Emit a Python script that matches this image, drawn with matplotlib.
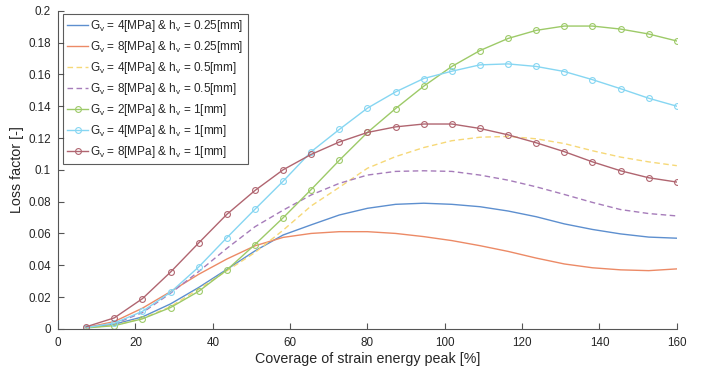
import matplotlib
matplotlib.use("Agg")
import matplotlib.pyplot as plt
import numpy as np

plt.rcParams['font.family'] = ['Liberation Sans', 'DejaVu Sans']

# x positions (coverage of strain energy peak, %)
coverage = [7.27, 14.55, 21.82, 29.09, 36.36, 43.64, 50.91, 58.18, 65.45, 72.73, 80.00,
            87.27, 94.55, 101.82, 109.09, 116.36, 123.64, 130.91, 138.18, 145.45, 152.73, 160.00]

g4_h025 = [0.0008, 0.0029, 0.0075, 0.0157, 0.0260, 0.0374, 0.0490, 0.0590, 0.0654, 0.0716, 0.0758,
           0.0783, 0.0790, 0.0783, 0.0768, 0.0741, 0.0705, 0.0660, 0.0625, 0.0597, 0.0577, 0.0570]
g8_h025 = [0.0008, 0.0046, 0.0130, 0.0234, 0.0343, 0.0439, 0.0522, 0.0575, 0.0600, 0.0611, 0.0611,
           0.0600, 0.0580, 0.0555, 0.0523, 0.0487, 0.0445, 0.0408, 0.0384, 0.0371, 0.0366, 0.0377]
g4_h05 = [0.0007, 0.0022, 0.0065, 0.0140, 0.0250, 0.0365, 0.0480, 0.0620, 0.0773, 0.0890, 0.1010,
          0.1083, 0.1140, 0.1183, 0.1205, 0.1210, 0.1195, 0.1165, 0.1120, 0.1080, 0.1050, 0.1026]
g8_h05 = [0.0008, 0.0032, 0.0102, 0.0224, 0.0360, 0.0506, 0.0642, 0.0746, 0.0842, 0.0915, 0.0967,
          0.0990, 0.0994, 0.0990, 0.0967, 0.0935, 0.0893, 0.0845, 0.0795, 0.0750, 0.0725, 0.0710]
g2_h1 = [0.0006, 0.0020, 0.0063, 0.0134, 0.0236, 0.0370, 0.0530, 0.0698, 0.0876, 0.1060, 0.1235,
         0.1385, 0.1526, 0.1650, 0.1750, 0.1826, 0.1877, 0.1904, 0.1904, 0.1885, 0.1854, 0.1810]
g4_h1 = [0.0008, 0.0036, 0.0110, 0.0230, 0.0389, 0.0573, 0.0752, 0.0928, 0.1114, 0.1254, 0.1388,
         0.1490, 0.1574, 0.1620, 0.1660, 0.1666, 0.1650, 0.1618, 0.1567, 0.1510, 0.1450, 0.1400]
g8_h1 = [0.0013, 0.0069, 0.0190, 0.0357, 0.0540, 0.0720, 0.0870, 0.1000, 0.1097, 0.1175, 0.1235,
         0.1270, 0.1288, 0.1288, 0.1260, 0.1220, 0.1170, 0.1114, 0.1050, 0.0994, 0.0950, 0.0923]

labels = [
    r"G$_\mathregular{v}$ = 4[MPa] & h$_\mathregular{v}$ = 0.25[mm]",
    r"G$_\mathregular{v}$ = 8[MPa] & h$_\mathregular{v}$ = 0.25[mm]",
    r"G$_\mathregular{v}$ = 4[MPa] & h$_\mathregular{v}$ = 0.5[mm]",
    r"G$_\mathregular{v}$ = 8[MPa] & h$_\mathregular{v}$ = 0.5[mm]",
    r"G$_\mathregular{v}$ = 2[MPa] & h$_\mathregular{v}$ = 1[mm]",
    r"G$_\mathregular{v}$ = 4[MPa] & h$_\mathregular{v}$ = 1[mm]",
    r"G$_\mathregular{v}$ = 8[MPa] & h$_\mathregular{v}$ = 1[mm]",
]

fig = plt.figure(figsize=(7.08, 3.72), dpi=100)
ax = fig.add_axes([0.082, 0.116, 0.874, 0.855])

dash = (0, (4, 2.5))
ax.plot(coverage, g4_h025, color='#5d8fcf', lw=1.0, label=labels[0])
ax.plot(coverage, g8_h025, color='#ec8a66', lw=1.0, label=labels[1])
ax.plot(coverage, g4_h05, color='#f6d877', lw=1.0, ls=dash, label=labels[2])
ax.plot(coverage, g8_h05, color='#a67cba', lw=1.0, ls=dash, label=labels[3])
mk = dict(marker='o', markersize=4.2, markerfacecolor='none', markeredgewidth=0.8, lw=1.0)
ax.plot(coverage, g2_h1, color='#9dca68', label=labels[4], **mk)
ax.plot(coverage, g4_h1, color='#86d6f2', label=labels[5], **mk)
ax.plot(coverage, g8_h1, color='#b06570', label=labels[6], **mk)

ax.set_xlim(0, 160)
ax.set_ylim(0, 0.2)
ax.set_xticks(np.arange(0, 161, 20))
yt = np.round(np.arange(0, 0.2001, 0.02), 2)
ax.set_yticks(yt)
ax.set_yticklabels([f"{v:g}" for v in yt])

for s in ['top', 'right']:
    ax.spines[s].set_visible(False)
for s in ['left', 'bottom']:
    ax.spines[s].set_color('#555555')
    ax.spines[s].set_linewidth(0.8)
ax.tick_params(direction='in', length=4, width=0.8, color='#555555',
               labelsize=8.4, labelcolor='#262626')
ax.tick_params(axis='x', pad=6)
ax.tick_params(axis='y', pad=5)

ax.set_xlabel("Coverage of strain energy peak [%]", fontsize=10.3, color='#262626', labelpad=2)
ax.set_ylabel("Loss factor [-]", fontsize=10.3, color='#262626', labelpad=3)

leg = ax.legend(loc='upper left', bbox_to_anchor=(0.008, 0.99), borderaxespad=0,
                fontsize=8.5, frameon=True, fancybox=False, edgecolor='#333333',
                handlelength=1.8, handletextpad=0.15, labelspacing=0.42,
                borderpad=0.35)
leg.get_frame().set_linewidth(0.8)
for t in leg.get_texts():
    t.set_color('#262626')

fig.savefig("out.png", dpi=100)
